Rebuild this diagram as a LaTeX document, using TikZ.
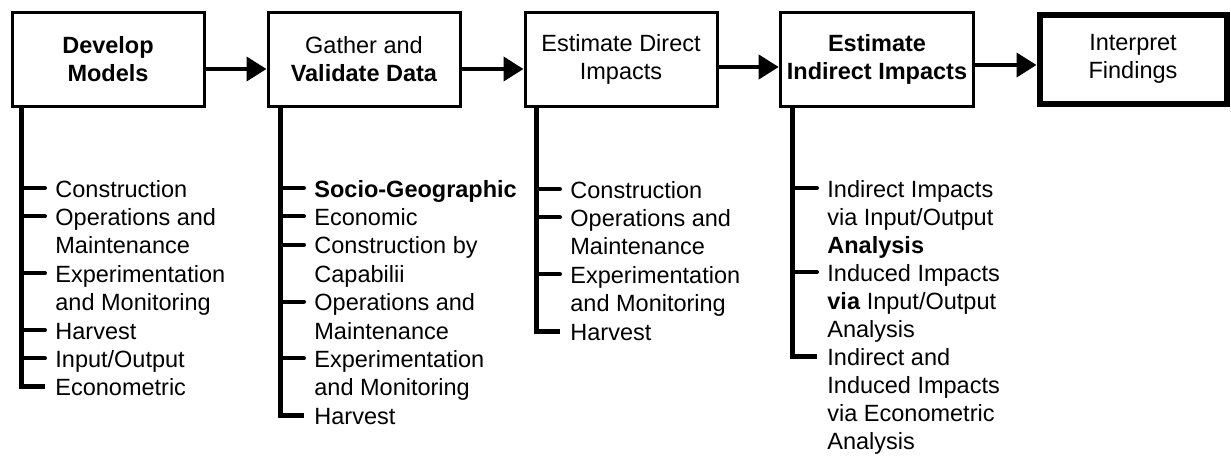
\documentclass[tikz,border=0pt]{standalone}
\usepackage{fontspec}
\setmainfont{Liberation Sans}
\usetikzlibrary{arrows.meta}
\newcommand\stacked[1]{\vtop{\halign{##\hfil\cr#1\cr}}}

\begin{document}
\begin{tikzpicture}[x=0.5pt,y=-0.5pt,
  stage/.style={draw,line width=1.5pt,minimum width=96pt,minimum height=47pt,
    align=center,font=\fontsize{11.75}{14}\selectfont},
  flow/.style={line width=2pt,-{Triangle[length=10pt,width=12pt]}},
  spine/.style={line width=2.5pt},
  tick/.style={line width=2pt,line cap=round},
  item/.style={anchor=base west,inner sep=0pt,
    font=\fontsize{11.75}{14.2}\selectfont}]
\useasboundingbox (0,0) rectangle (1231,455);
% stages
\node[stage] (models) at (108,59) {\textbf{Develop}\\\textbf{Models}};
\node[stage] (data) at (364,59) {Gather and\\\textbf{Validate Data}};
\node[stage] (direct) at (621,59) {Estimate Direct\\Impacts};
\node[stage] (indirect) at (877,59) {\textbf{Estimate}\\\textbf{Indirect Impacts}};
\node[stage,line width=3pt,minimum width=93.5pt,minimum height=44.5pt] (findings) at (1133,59) {Interpret\\Findings};
\draw[flow] ([yshift=-5pt]models.east) -- ([yshift=-5pt]data.west);
\draw[flow] ([yshift=-5pt]data.east) -- ([yshift=-5pt]direct.west);
\draw[flow] ([yshift=-4pt]direct.east) -- ([yshift=-4pt]indirect.west);
\draw[flow] ([yshift=-3pt]indirect.east) -- ([yshift=-3pt]findings.west);
% models
\node[item] (m1) at (55,197) {Construction};
\node[item] (m2) at (55,225.4) {\stacked{Operations and\cr Maintenance}};
\node[item] (m3) at (55,282.2) {\stacked{Experimentation\cr and Monitoring}};
\node[item] (m4) at (55,339) {Harvest};
\node[item] (m5) at (55,367.4) {Input/Output};
\node[item] (m6) at (55,395.8) {Econometric};
\draw[spine] ([xshift=5.5pt]models.south west) |- ([xshift=-5pt,yshift=4.5pt]m6.base west);
\foreach \n in {m1,m2,m3,m4,m5}
  \draw[tick] ([xshift=-5pt,yshift=4.5pt]\n.base west) -- ++(-11pt,0);
% data
\node[item] (d1) at (314,197) {\textbf{Socio-Geographic}};
\node[item] (d2) at (314,225.4) {Economic};
\node[item] (d3) at (314,253.8) {\stacked{Construction by\cr Capabilii}};
\node[item] (d4) at (314,310.6) {\stacked{Operations and\cr Maintenance}};
\node[item] (d5) at (314,367.4) {\stacked{Experimentation\cr and Monitoring}};
\node[item] (d6) at (314,424.2) {Harvest};
\draw[spine] ([xshift=7pt]data.south west) |- ([xshift=-5pt,yshift=4.5pt]d6.base west);
\foreach \n in {d1,d2,d3,d4,d5}
  \draw[tick] ([xshift=-5pt,yshift=4.5pt]\n.base west) -- ++(-11pt,0);
% direct impacts
\node[item] (e1) at (570,198) {Construction};
\node[item] (e2) at (570,226.4) {\stacked{Operations and\cr Maintenance}};
\node[item] (e3) at (570,283.2) {\stacked{Experimentation\cr and Monitoring}};
\node[item] (e4) at (570,340) {Harvest};
\draw[spine] ([xshift=6.5pt]direct.south west) |- ([xshift=-5pt,yshift=4.5pt]e4.base west);
\foreach \n in {e1,e2,e3}
  \draw[tick] ([xshift=-5pt,yshift=4.5pt]\n.base west) -- ++(-11pt,0);
% indirect impacts, a little tighter so the last line fits
\tikzstyle{item}+=[font=\fontsize{11.75}{14}\selectfont]
\node[item] (i1) at (827,197) {\stacked{Indirect Impacts\cr via Input/Output\cr \textbf{Analysis}}};
\node[item] (i2) at (827,281) {\stacked{Induced Impacts\cr \textbf{via} Input/Output\cr Analysis}};
\node[item] (i3) at (827,365) {\stacked{Indirect and\cr Induced Impacts\cr via Econometric\cr Analysis}};
\draw[spine] ([xshift=7pt]indirect.south west) |- ([xshift=-5pt,yshift=4.5pt]i3.base west);
\foreach \n in {i1,i2}
  \draw[tick] ([xshift=-5pt,yshift=4.5pt]\n.base west) -- ++(-11pt,0);
\end{tikzpicture}
\end{document}
